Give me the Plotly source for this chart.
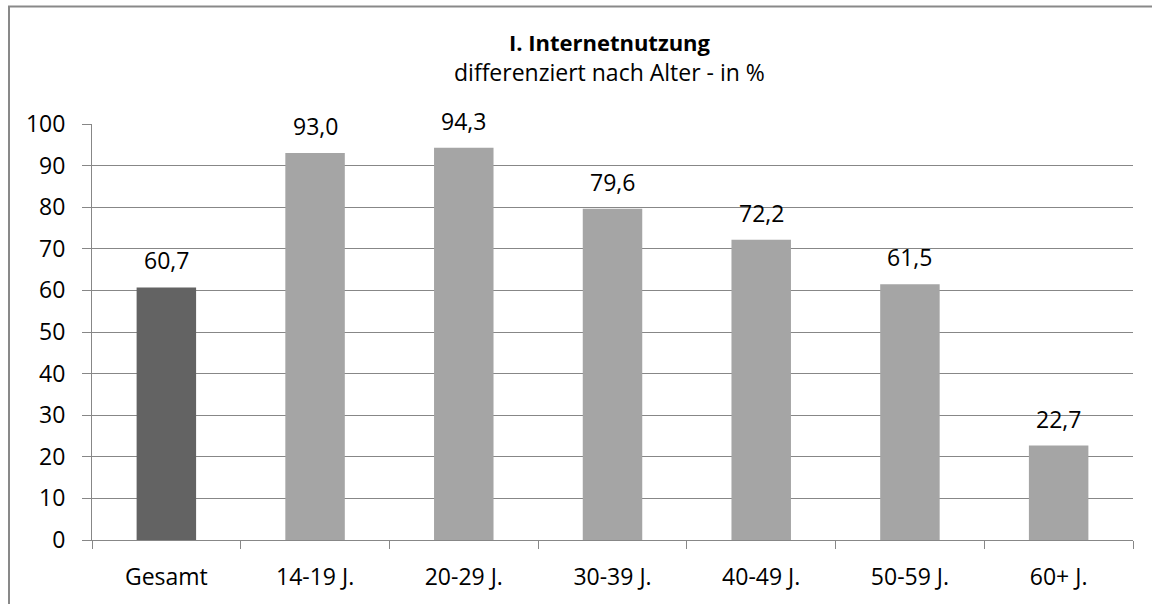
import plotly.graph_objects as go

# Anteil der Internetnutzer nach Altersgruppe (in %)
categories = ["Gesamt", "14-19 J.", "20-29 J.", "30-39 J.", "40-49 J.", "50-59 J.", "60+ J."]
values = [60.7, 93.0, 94.3, 79.6, 72.2, 61.5, 22.7]
y_ticks = [0, 10, 20, 30, 40, 50, 60, 70, 80, 90, 100]

DARK = "#636363"
LIGHT = "#a5a5a5"
GRID = "#878787"
FONT = "Open Sans"
FS = 23

W, H = 1152, 604
ML, MR, MT, MB = 92, 19, 124, 62
plot_w = W - ML - MR
plot_h = H - MT - MB

bar_colors = [DARK] + [LIGHT] * (len(categories) - 1)

fig = go.Figure(
    go.Bar(
        x=categories,
        y=values,
        marker=dict(color=bar_colors, line=dict(width=0)),
        width=0.4,
        hoverinfo="skip",
    )
)

# Werte über den Balken (deutsches Dezimalkomma)
for cat, v in zip(categories, values):
    fig.add_annotation(
        x=cat, y=v, xref="x", yref="y",
        text=f"{v:.1f}".replace(".", ","),
        showarrow=False, yanchor="middle", yshift=27,
        font=dict(family=FONT, size=FS, color="#000000"),
    )

# Titel und Untertitel
def py(pixel_y):
    return (H - MB - pixel_y) / plot_h

def px(pixel_x):
    return (pixel_x - ML) / plot_w

fig.add_annotation(
    x=px(609), y=py(57), xref="paper", yref="paper",
    text="<b><span style='font-size:22px'>I. Internetnutzung</span></b><br>"
         "differenziert nach Alter - in %",
    showarrow=False, align="center",
    xanchor="center", yanchor="middle",
    font=dict(family=FONT, size=FS, color="#000000"),
)

# Rahmen des Diagrammbereichs
fig.add_shape(
    type="rect", xref="paper", yref="paper",
    x0=px(9), y0=py(640), x1=px(1190), y1=py(6),
    line=dict(color="#898989", width=2), fillcolor="rgba(0,0,0,0)",
    layer="below",
)

fig.update_layout(
    width=W, height=H,
    margin=dict(l=ML, r=MR, t=MT, b=MB, pad=0),
    paper_bgcolor="white", plot_bgcolor="white",
    showlegend=False,
    font=dict(family=FONT, size=FS, color="#000000"),
    bargap=0.6,
)

fig.update_xaxes(
    showline=True, linecolor=GRID, linewidth=1,
    ticks="outside", tickson="boundaries", ticklen=8, tickcolor=GRID, tickwidth=1,
    tickfont=dict(family=FONT, size=FS, color="#000000"),
    ticklabelstandoff=16,
    showgrid=False, fixedrange=True,
)

fig.update_yaxes(
    range=[0, 100], tickmode="array", tickvals=y_ticks,
    ticktext=[str(t) for t in y_ticks],
    showline=True, linecolor=GRID, linewidth=1,
    ticks="outside", ticklen=9, tickcolor=GRID, tickwidth=1,
    showgrid=True, gridcolor=GRID, gridwidth=1,
    zeroline=False,
    tickfont=dict(family=FONT, size=FS, color="#000000"),
    ticklabelstandoff=12,
    fixedrange=True,
)

fig.write_html("out.html", config={"displayModeBar": False})
